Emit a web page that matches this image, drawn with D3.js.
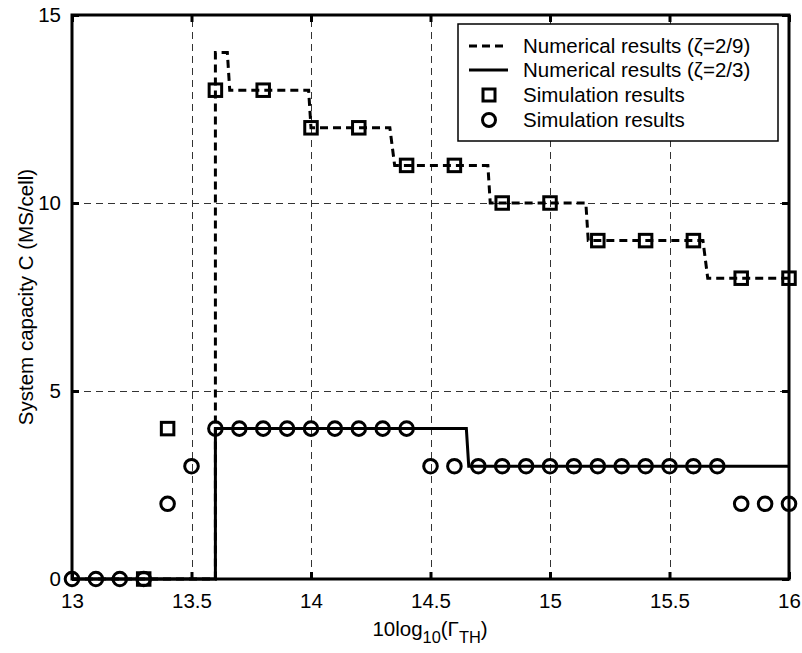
<!DOCTYPE html>
<html><head><meta charset="utf-8">
<script src="https://cdn.jsdelivr.net/npm/d3@7"></script>
<style>body{margin:0;background:#fff}svg{display:block}text{font-family:"Liberation Sans",Arial,sans-serif;fill:#000}</style>
</head><body>
<svg id="chart" width="802" height="653"></svg>
<script>
// ---- data ----
const xTicks = [13, 13.5, 14, 14.5, 15, 15.5, 16];
const yTicks = [0, 5, 10, 15];
const xTickLabels = ["13", "13.5", "14", "14.5", "15", "15.5", "16"];
const yTickLabels = ["0", "5", "10", "15"];

// Numerical results (zeta = 2/9), dashed
const num29X = [13, 13.6, 13.6, 13.65, 13.66, 13.99, 14.0, 14.33, 14.35, 14.74, 14.75, 15.15, 15.16, 15.64, 15.66, 16];
const num29Y = [0, 0, 14, 14, 13, 13, 12, 12, 11, 11, 10, 10, 9, 9, 8, 8];
// Numerical results (zeta = 2/3), solid
const num23X = [13, 13.6, 13.6, 14.65, 14.66, 16];
const num23Y = [0, 0, 4, 4, 3, 3];
// Simulation results (squares)
const simSqX = [13.3, 13.4, 13.6, 13.8, 14.0, 14.2, 14.4, 14.6, 14.8, 15.0, 15.2, 15.4, 15.6, 15.8, 16.0];
const simSqY = [0, 4, 13, 13, 12, 12, 11, 11, 10, 10, 9, 9, 9, 8, 8];
// Simulation results (circles)
const simCiX = [13.0, 13.1, 13.2, 13.3, 13.4, 13.5, 13.6, 13.7, 13.8, 13.9, 14.0, 14.1, 14.2, 14.3, 14.4,
                14.5, 14.6, 14.7, 14.8, 14.9, 15.0, 15.1, 15.2, 15.3, 15.4, 15.5, 15.6, 15.7, 15.8, 15.9, 16.0];
const simCiY = [0, 0, 0, 0, 2, 3, 4, 4, 4, 4, 4, 4, 4, 4, 4,
                3, 3, 3, 3, 3, 3, 3, 3, 3, 3, 3, 3, 3, 2, 2, 2];

const legendLabels = ["Numerical results (\u03B6=2/9)", "Numerical results (\u03B6=2/3)", "Simulation results", "Simulation results"];

// ---- layout ----
const L = 72, R = 789, T = 15, B = 579;
const svg = d3.select("#chart");
const x = d3.scaleLinear().domain([13, 16]).range([L, R]);
const y = d3.scaleLinear().domain([0, 15]).range([B, T]);
const FS = 20.5;

// grid
const grid = svg.append("g").attr("stroke", "#333").attr("stroke-width", 1).attr("stroke-dasharray", "7,5").attr("fill", "none");
xTicks.slice(1, -1).forEach(v => grid.append("line").attr("x1", Math.round(x(v)) + 0.5).attr("x2", Math.round(x(v)) + 0.5).attr("y1", B).attr("y2", T));
yTicks.slice(1, -1).forEach(v => grid.append("line").attr("x1", L).attr("x2", R).attr("y1", Math.round(y(v)) + 0.5).attr("y2", Math.round(y(v)) + 0.5));

// axes via d3 axes (ticks inward)
const tickLen = 7;
const axB = svg.append("g").attr("transform", `translate(0,${B})`)
  .call(d3.axisBottom(x).tickValues(xTicks).tickFormat((d, i) => xTickLabels[i]).tickSize(-tickLen).tickPadding(tickLen + 7));
const axT = svg.append("g").attr("transform", `translate(0,${T})`)
  .call(d3.axisTop(x).tickValues(xTicks).tickFormat("").tickSize(-tickLen));
const axL = svg.append("g").attr("transform", `translate(${L},0)`)
  .call(d3.axisLeft(y).tickValues(yTicks).tickFormat((d, i) => yTickLabels[i]).tickSize(-tickLen).tickPadding(tickLen + 4));
const axR = svg.append("g").attr("transform", `translate(${R},0)`)
  .call(d3.axisRight(y).tickValues(yTicks).tickFormat("").tickSize(-tickLen));
[axB, axT, axL, axR].forEach(a => {
  a.select(".domain").remove();
  a.selectAll(".tick line").attr("stroke", "#000").attr("stroke-width", 3);
  a.selectAll("text").attr("font-size", FS).attr("font-family", '"Liberation Sans", Arial, sans-serif').attr("fill", "#000");
});

// series lines
const line = d3.line().x(d => x(d[0])).y(d => y(d[1]));
const d29 = num29X.map((v, i) => [v, num29Y[i]]);
const d23 = num23X.map((v, i) => [v, num23Y[i]]);
svg.append("path").datum(d29).attr("d", line).attr("fill", "none").attr("stroke", "#000").attr("stroke-width", 3).attr("stroke-dasharray", "8,5");
svg.append("path").datum(d23).attr("d", line).attr("fill", "none").attr("stroke", "#000").attr("stroke-width", 3);

// plot box
svg.append("rect").attr("x", L).attr("y", T).attr("width", R - L).attr("height", B - T)
  .attr("fill", "none").attr("stroke", "#000").attr("stroke-width", 3);

// markers
const MS = 12.5;
svg.append("g").selectAll("rect").data(simSqX.map((v, i) => [v, simSqY[i]])).join("rect")
  .attr("x", d => x(d[0]) - MS / 2).attr("y", d => y(d[1]) - MS / 2).attr("width", MS).attr("height", MS)
  .attr("fill", "none").attr("stroke", "#000").attr("stroke-width", 3);
svg.append("g").selectAll("circle").data(simCiX.map((v, i) => [v, simCiY[i]])).join("circle")
  .attr("cx", d => x(d[0])).attr("cy", d => y(d[1])).attr("r", 6.8)
  .attr("fill", "none").attr("stroke", "#000").attr("stroke-width", 3);

// legend
const lg = svg.append("g");
lg.append("rect").attr("x", 458).attr("y", 24).attr("width", 320).attr("height", 117)
  .attr("fill", "#fff").attr("stroke", "#000").attr("stroke-width", 1.5);
const rowY = [46, 70, 95, 120];
legendLabels.forEach((t, i) => {
  const yy = rowY[i];
  if (i === 0) lg.append("line").attr("x1", 469).attr("x2", 508).attr("y1", yy).attr("y2", yy).attr("stroke", "#000").attr("stroke-width", 3).attr("stroke-dasharray", "8,5");
  if (i === 1) lg.append("line").attr("x1", 469).attr("x2", 508).attr("y1", yy).attr("y2", yy).attr("stroke", "#000").attr("stroke-width", 3);
  if (i === 2) lg.append("rect").attr("x", 489 - 6).attr("y", yy - 6).attr("width", 12).attr("height", 12).attr("fill", "none").attr("stroke", "#000").attr("stroke-width", 3);
  if (i === 3) lg.append("circle").attr("cx", 489).attr("cy", yy).attr("r", 6.5).attr("fill", "none").attr("stroke", "#000").attr("stroke-width", 3);
  lg.append("text").attr("x", 523).attr("y", yy).attr("dy", "0.35em").attr("font-size", FS).text(t);
});

// axis labels
const xl = svg.append("text").attr("x", 430).attr("y", 636).attr("text-anchor", "middle").attr("font-size", FS);
xl.append("tspan").text("10log");
xl.append("tspan").attr("font-size", FS * 0.8).attr("dy", 7).text("10");
xl.append("tspan").attr("dy", -7).text("(\u0393");
xl.append("tspan").attr("font-size", FS * 0.8).attr("dy", 7).text("TH");
xl.append("tspan").attr("dy", -7).text(")");

svg.append("text").attr("transform", `translate(33,${(T + B) / 2}) rotate(-90)`)
  .attr("text-anchor", "middle").attr("font-size", FS).text("System capacity C (MS/cell)");
</script>
</body></html>
